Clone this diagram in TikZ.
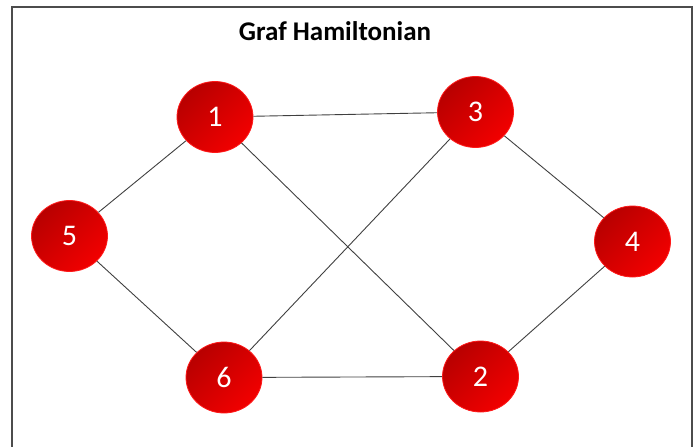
\documentclass[tikz,border=0pt]{standalone}
\usepackage{fontspec}
\setmainfont{Carlito}
\usepackage{xcolor}
\usetikzlibrary{shapes.geometric}
\definecolor{vdark}{HTML}{B80000}
\definecolor{vlight}{HTML}{F20000}
\definecolor{edgegray}{HTML}{404040}

\begin{document}
\begin{tikzpicture}[x=1pt,y=-1pt,
  vertex/.style={ellipse,minimum width=76pt,minimum height=71pt,inner sep=0pt,
    draw=red!90!white,line width=0.8pt,
    left color=vdark,right color=vlight,shading angle=45,
    text=white,font=\fontsize{30}{30}\selectfont},
  edge/.style={draw=edgegray,line width=0.9pt}]
\useasboundingbox (0,0) rectangle (697,447);
\draw[line width=1.1pt,draw=black!70] (12,447) -- (12,7) -- (692,7) -- (692,447);
\node[font=\bfseries\fontsize{27}{27}\selectfont] (title) at (335,31) {Graf Hamiltonian};
%
\node[vertex] (v1) at (215,117) {1};
\node[vertex] (v3) at (475.5,112) {3};
\node[vertex] (v5) at (69.5,236) {5};
\node[vertex] (v4) at (632.5,241.5) {4};
\node[vertex] (v6) at (224,377.5) {6};
\node[vertex] (v2) at (480.5,376.5) {2};
%
\draw[edge] (v1) -- (v3);
\draw[edge] (v1) -- (v5);
\draw[edge] (v1) -- (v2);
\draw[edge] (v3) -- (v6);
\draw[edge] (v3) -- (v4);
\draw[edge] (v5) -- (v6);
\draw[edge] (v6) -- (v2);
\draw[edge] (v2) -- (v4);
\end{tikzpicture}
\end{document}
